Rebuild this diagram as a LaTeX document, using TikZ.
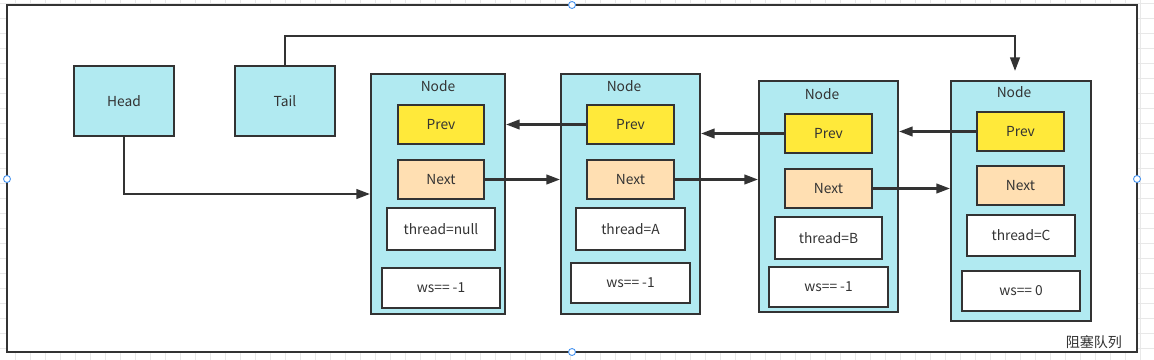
\documentclass[tikz,border=0pt]{standalone}
\usepackage{fontspec}
\setmainfont{Noto Sans CJK SC}
\usepackage{tikz}
\usetikzlibrary{arrows.meta, fit}

\definecolor{linegray}{HTML}{333333}
\definecolor{gridgray}{HTML}{E8E8E8}
\definecolor{nodecyan}{HTML}{B1EAF1}
\definecolor{prevyellow}{HTML}{FFE93A}
\definecolor{nextorange}{HTML}{FFDFB2}
\definecolor{handleblue}{HTML}{3D8EF0}

\tikzset{
  box/.style={draw=linegray, line width=1.5pt, inner sep=0pt},
  txt/.style={text=linegray, font=\fontsize{9.8}{11}\selectfont},
  cbox/.style={box, fill=nodecyan},
  prevbox/.style={box, fill=prevyellow},
  nextbox/.style={box, fill=nextorange},
  valbox/.style={box, fill=white},
  arr/.style={draw=linegray, line width=1.6pt,
    -{Triangle[length=3.4mm, width=2.4mm]}},
  handle/.style={draw=handleblue, fill=white, line width=0.6pt},
  every label/.style={txt}
}

\begin{document}
\begin{tikzpicture}[x=0.025cm, y=-0.025cm]
    \useasboundingbox (0,0) rectangle (1154,360);
    % grille de fond
    \foreach \i in {15,30,...,1150} \draw[gridgray, line width=0.4pt] (\i,0) -- (\i,360);
    \foreach \j in {3,18,...,360} \draw[gridgray, line width=0.4pt] (0,\j) -- (1154,\j);

    % cadre
    \draw[linegray, fill=white, line width=1.5pt] (7,5) rectangle (1137,352);
    \node[txt, font=\fontsize{10}{11}\selectfont, anchor=east] (titre) at (1127,342) {阻塞队列};

    % Head et Tail
    \node[cbox, fit={(74,66)(174,136)}, label={center:Head}] (head) {};
    \node[cbox, fit={(235,66)(335,136)}, label={center:Tail}] (tail) {};

    % premier noeud
    \node[cbox, fit={(371,74)(505,314)}] (n1) {};
    \node[txt] (l1) at (438,86) {Node};
    \node[prevbox, fit={(398,105)(484,144)}, label={center:Prev}] (p1) {};
    \node[nextbox, fit={(398,160)(484,199)}, label={center:Next}] (x1) {};
    \node[valbox, fit={(387,208)(495,250)}, label={center:thread=null}] (t1) {};
    \node[valbox, fit={(382,268)(500,308)}, label={center:ws== -1}] (w1) {};

    % deuxieme noeud
    \node[cbox, fit={(561,74)(700,314)}] (n2) {};
    \node[txt] (l2) at (624,86) {Node};
    \node[prevbox, fit={(587,105)(674,144)}, label={center:Prev}] (p2) {};
    \node[nextbox, fit={(587,160)(674,199)}, label={center:Next}] (x2) {};
    \node[valbox, fit={(576,208)(685,250)}, label={center:thread=A}] (t2) {};
    \node[valbox, fit={(571,263)(690,303)}, label={center:ws== -1}] (w2) {};

    % troisieme noeud
    \node[cbox, fit={(759,81)(898,312)}] (n3) {};
    \node[txt] (l3) at (822,94) {Node};
    \node[prevbox, fit={(785,114)(872,153)}, label={center:Prev}] (p3) {};
    \node[nextbox, fit={(785,169)(872,208)}, label={center:Next}] (x3) {};
    \node[valbox, fit={(775,217)(882,259)}, label={center:thread=B}] (t3) {};
    \node[valbox, fit={(769,267)(888,307)}, label={center:ws== -1}] (w3) {};

    % quatrieme noeud
    \node[cbox, fit={(951,81)(1091,321)}] (n4) {};
    \node[txt] (l4) at (1014,92) {Node};
    \node[prevbox, fit={(977,112)(1064,151)}, label={center:Prev}] (p4) {};
    \node[nextbox, fit={(977,166)(1064,205)}, label={center:Next}] (x4) {};
    \node[valbox, fit={(967,215)(1075,256)}, label={center:thread=C}] (t4) {};
    \node[valbox, fit={(962,271)(1080,311)}, label={center:ws== 0}] (w4) {};

    % fleches prev
    \draw[arr] (p2.west) -- (p2.west -| n1.east);
    \draw[arr] (p3.west) -- (p3.west -| n2.east);
    \draw[arr] (p4.west) -- (p4.west -| n3.east);

    % fleches next
    \draw[arr] (x1.east) -- (x1.east -| n2.west);
    \draw[arr] (x2.east) -- (x2.east -| n3.west);
    \draw[arr] (x3.east) -- (x3.east -| n4.west);

    % Head et Tail vers les noeuds
    \draw[arr] (head.south) |- (n1.west);
    \coordinate (coude) at (1015,36);
    \coordinate (fin) at (1015,71);
    \draw[arr] (tail.north) |- (coude) -- (fin);

    % poignees
    \draw[handle] (7,179) circle (3.5);
    \draw[handle] (1137,179) circle (3.5);
    \draw[handle] (572,5) circle (3.5);
    \draw[handle] (572,352) circle (3.5);
\end{tikzpicture}
\end{document}
